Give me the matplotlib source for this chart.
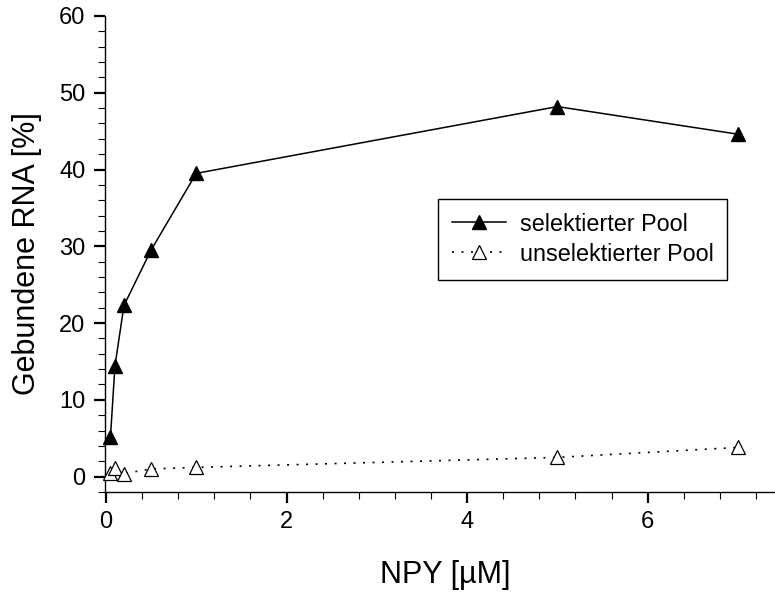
import matplotlib
matplotlib.use("Agg")
import matplotlib.pyplot as plt
from matplotlib.ticker import MultipleLocator

plt.rcParams['font.family'] = ['Liberation Sans', 'DejaVu Sans']

npy = [0.05, 0.1, 0.2, 0.5, 1, 5, 7]
selektiert = [5.1, 14.4, 22.3, 29.5, 39.5, 48.2, 44.6]
unselektiert = [0.5, 1.1, 0.4, 1.0, 1.2, 2.5, 3.8]

fig = plt.figure(figsize=(7.75, 5.92), dpi=100)
ax = fig.add_axes([0.1355, 0.169, 0.8645, 0.804])

ax.plot(npy, selektiert, '-', color='black', lw=1.1, marker='^', ms=10,
        mfc='black', mec='black', label='selektierter Pool', clip_on=False, zorder=3)
ax.plot(npy, unselektiert, color='black', lw=1.2, dashes=(1.2, 4.5), marker='^', ms=10,
        mfc='white', mec='black', mew=0.9, label='unselektierter Pool', clip_on=False, zorder=3)

ax.set_xlim(-0.01, 7.41)
ax.set_ylim(-2, 60)
ax.xaxis.set_major_locator(MultipleLocator(2))
ax.xaxis.set_minor_locator(MultipleLocator(0.4))
ax.yaxis.set_major_locator(MultipleLocator(10))
ax.yaxis.set_minor_locator(MultipleLocator(2))
ax.set_yticks([0, 10, 20, 30, 40, 50, 60])

for s in ['top', 'right']:
    ax.spines[s].set_visible(False)
for s in ['left', 'bottom']:
    ax.spines[s].set_linewidth(1.0)

ax.tick_params(which='major', direction='out', length=8, width=1.6, labelsize=17, pad=6)
ax.tick_params(which='minor', direction='out', length=5, width=0.8)

ax.set_xlabel('NPY [µM]', fontsize=22)
ax.set_ylabel('Gebundene RNA [%]', fontsize=22)
ax.xaxis.set_label_coords(0.5075, -0.143)
ax.yaxis.set_label_coords(-0.094, 0.5)

leg = ax.legend(loc='upper left', bbox_to_anchor=(0.4795, 0.641), fontsize=16.8,
                frameon=True, fancybox=False, edgecolor='black', framealpha=1,
                handlelength=2.3, borderpad=0.6, handletextpad=0.6, labelspacing=0.3)
leg.get_frame().set_linewidth(1.0)

fig.savefig('out.png', dpi=100)
